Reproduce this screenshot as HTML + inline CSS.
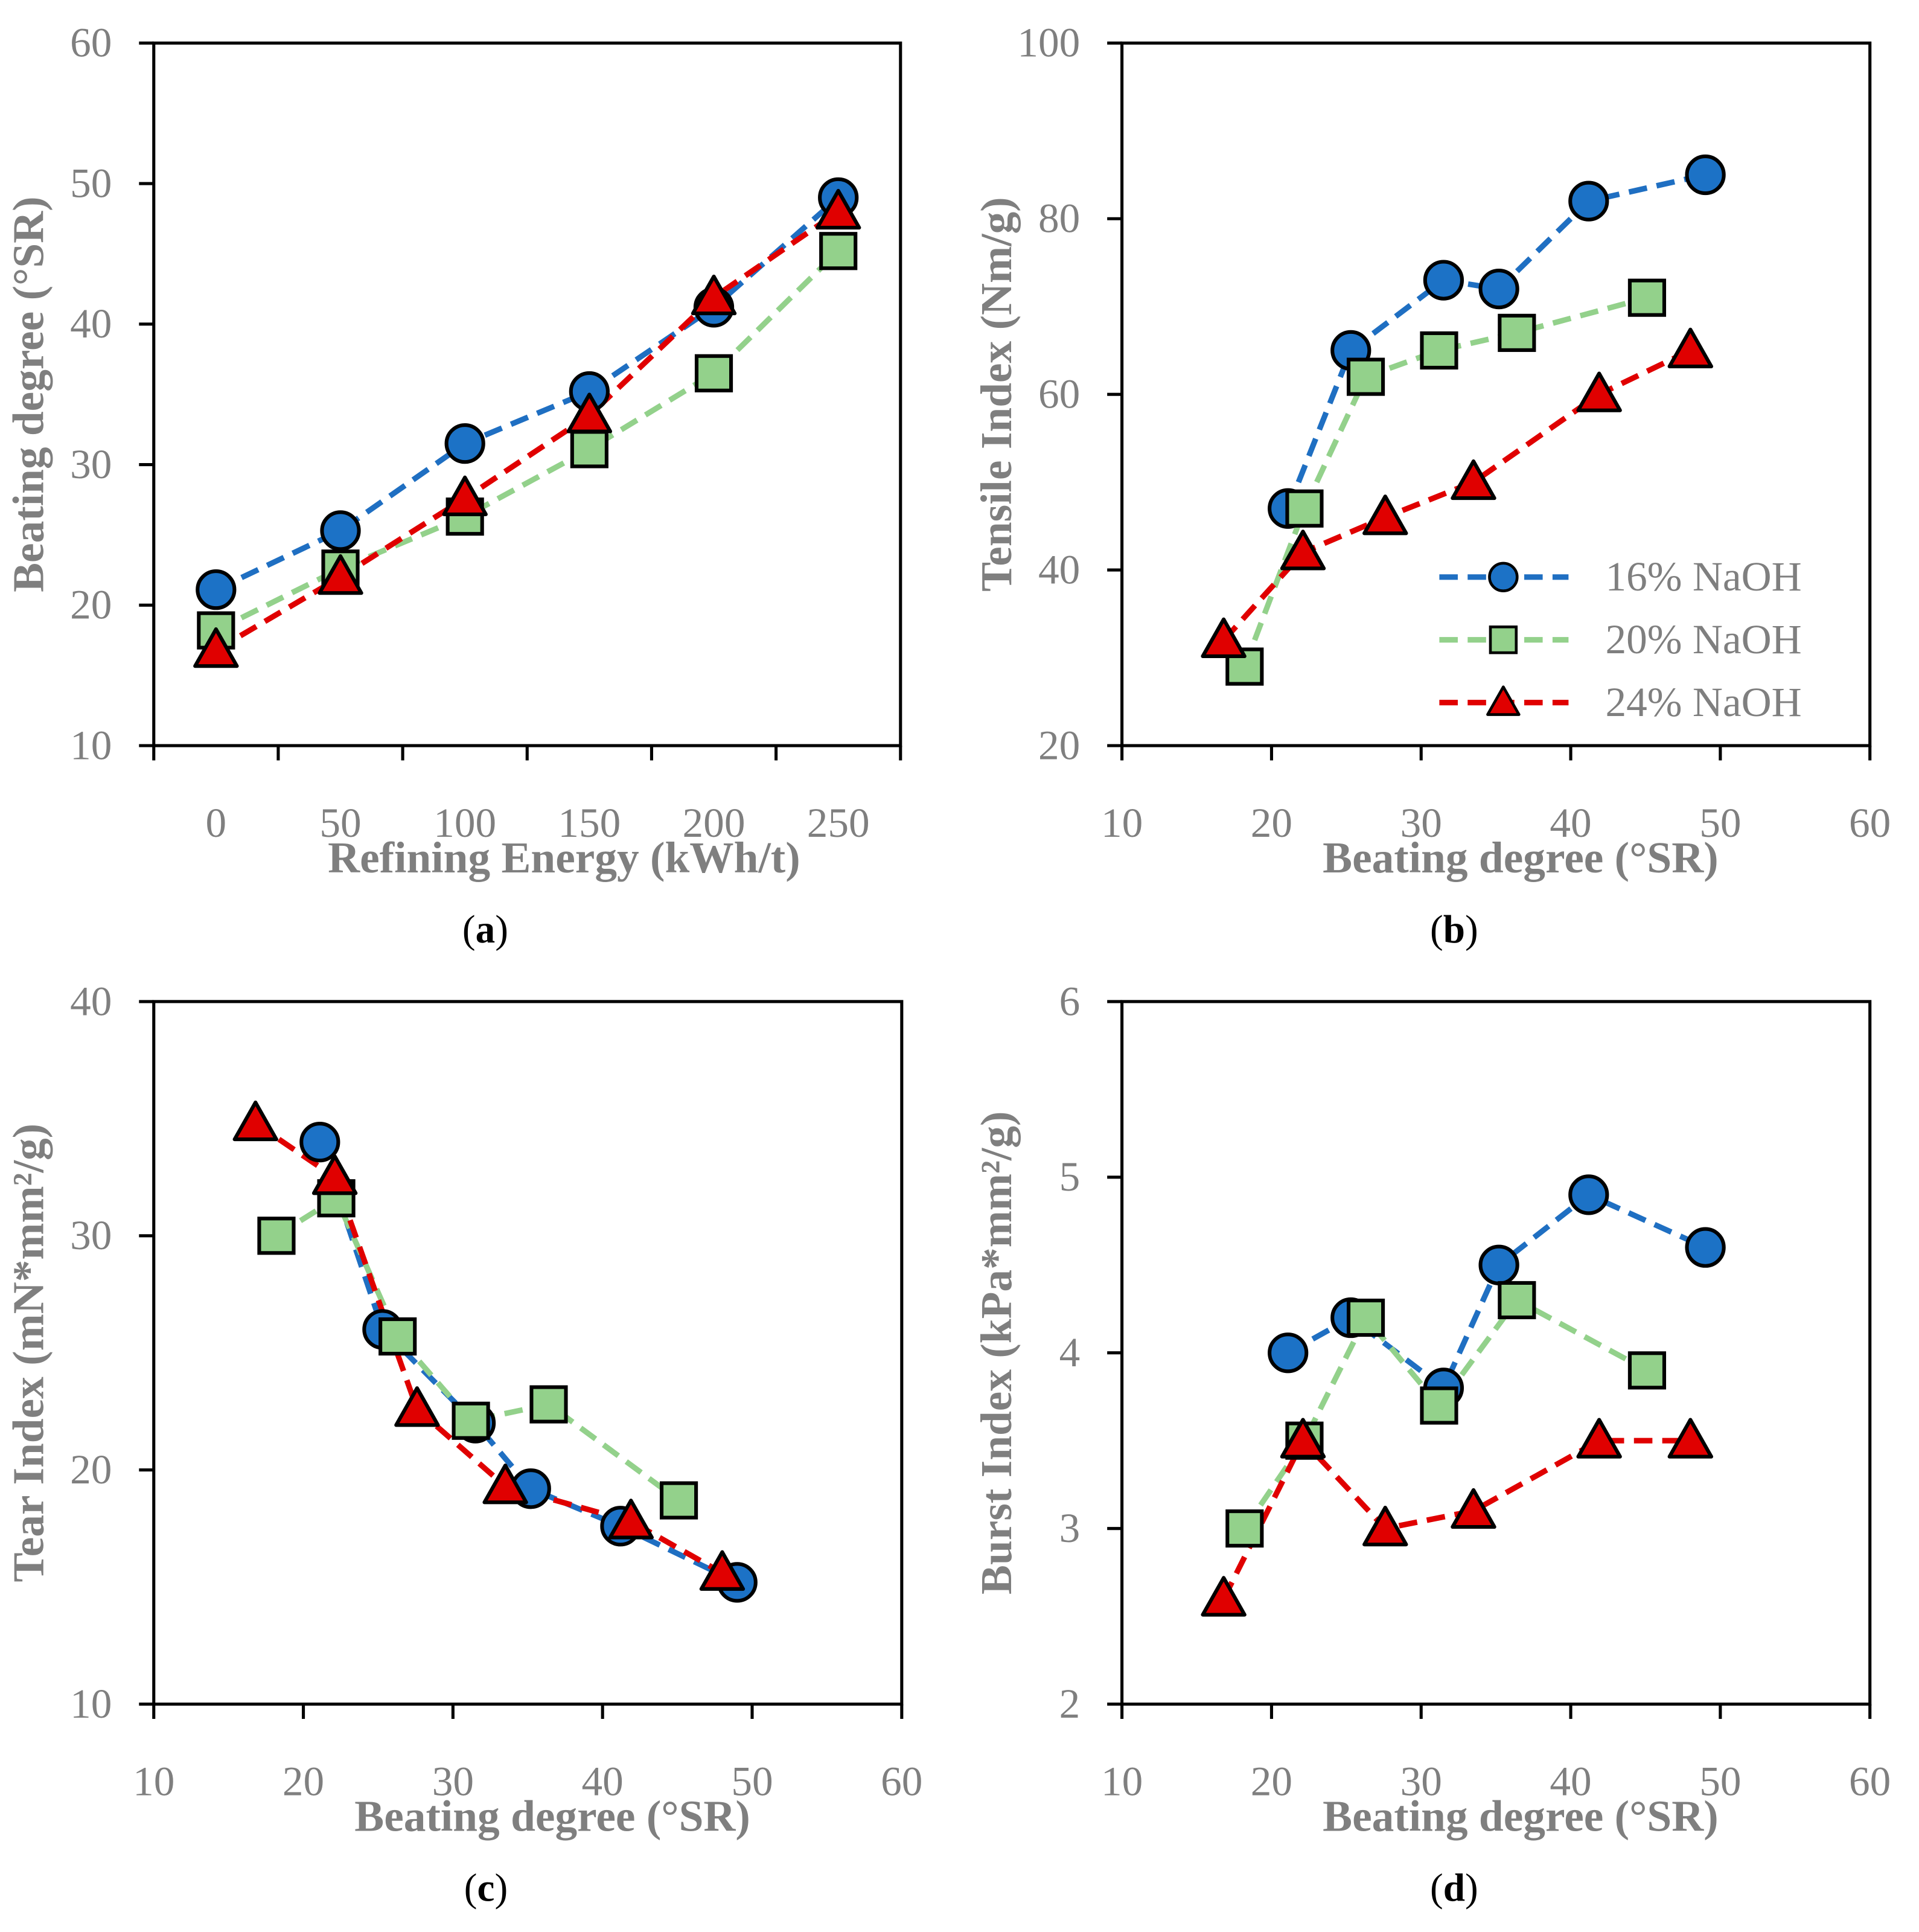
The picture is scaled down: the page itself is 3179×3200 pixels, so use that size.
<!DOCTYPE html>
<html><head><meta charset="utf-8"><style>
html,body{margin:0;padding:0;background:#fff}
svg{display:block}
text{font-family:"Liberation Serif",serif}
</style></head><body>
<svg id="fig" width="3179" height="3200" viewBox="0 0 1559.9 1570.2" preserveAspectRatio="none" xmlns="http://www.w3.org/2000/svg"></svg>
<script>
const energyCats=[0,50,100,150,200,250];
const srA16=[21.1,25.3,31.5,35.2,41.2,49];
const srA20=[18.2,22.6,26.3,31.1,36.5,45.2];
const srA24=[16.8,22.0,27.6,33.5,41.9,48.0];
const x16=[21.1,25.3,31.5,35.2,41.2,49];
const x20=[18.2,22.2,26.3,31.2,36.4,45.1];
const x24=[16.8,22.1,27.6,33.5,41.9,48.0];
const tensile16=[47,65,73,72,82,85];
const tensile20=[29,47,62,65,67,71];
const tensile24=[32,42,46,50,60,65];
const tear16=[34,26,22,19.2,17.6,15.2];
const tear20=[30,31.6,25.7,22.1,22.8,18.7];
const tear24=[34.8,32.5,22.6,19.3,17.8,15.6];
const burst16=[4.0,4.2,3.8,4.5,4.9,4.6];
const burst20=[3.0,3.5,4.2,3.7,4.3,3.9];
const burst24=[2.6,3.5,3.0,3.1,3.5,3.5];
const seriesNames=['16% NaOH','20% NaOH','24% NaOH'];

const svg=document.getElementById('fig');
const NS='http://www.w3.org/2000/svg';
const LC=['#1f6fc2','#93d18b','#e00000'], FC=['#1c72c6','#93d18b','#e00000'];
function mk(tag,at,parent,txt){const e=document.createElementNS(NS,tag);for(const k in at)e.setAttribute(k,at[k]);if(txt!==undefined)e.textContent=txt;(parent||svg).appendChild(e);return e;}
function marker(g,k,cx,cy){
  let m;
  if(k===0)m=mk('circle',{cx:cx,cy:cy,r:15,fill:FC[0],stroke:'#000','stroke-width':3},g);
  else if(k===1)m=mk('rect',{x:cx-14,y:cy-14,width:28,height:28,fill:FC[1],stroke:'#000','stroke-width':3},g);
  else m=mk('polygon',{points:`${cx},${cy-17} ${cx+17},${cy+13} ${cx-17},${cy+13}`,fill:FC[2],stroke:'#000','stroke-width':3,'stroke-linejoin':'round'},g);
  
  
}
function panel(o){
  const g=mk('g',{});
  
  
  const sx=v=>o.L+(v-o.xmin)/(o.xmax-o.xmin)*(o.R-o.L);
  const sy=v=>o.B-(v-o.ymin)/(o.ymax-o.ymin)*(o.B-o.T);
  const box=mk('rect',{x:o.L,y:o.T,width:o.R-o.L,height:o.B-o.T,fill:'none',stroke:'#000','stroke-width':2.5},g);
  
  
  for(let v=o.ymin;v<=o.ymax+1e-9;v+=o.ystep){
    mk('line',{x1:o.L-12,x2:o.L,y1:sy(v),y2:sy(v),stroke:'#000','stroke-width':2.5},g);
    const t=mk('text',{x:o.L-34,y:sy(v)+11,'text-anchor':'end','font-size':34,fill:'#7f7f7f'},g,String(v));
    
    
  }
  for(let v=o.xtick0;v<=o.xmax+1e-9;v+=o.xstep) mk('line',{x1:sx(v),x2:sx(v),y1:o.B,y2:o.B+12,stroke:'#000','stroke-width':2.5},g);
  o.xlabels.forEach(v=>{
    const t=mk('text',{x:sx(v),y:o.B+74,'text-anchor':'middle','font-size':34,fill:'#7f7f7f'},g,String(v));
    
    
  });
  const xt=mk('text',{x:(o.L+o.R)/2+(o.xtoff||0),y:o.B+103,'text-anchor':'middle','font-size':36,'font-weight':'bold',fill:'#7f7f7f'},g,o.xtitle);
  
  
  const cy=(o.T+o.B)/2, yx=o.L-90;
  const yt=mk('text',{x:yx,y:cy,'text-anchor':'middle','font-size':36,'font-weight':'bold',fill:'#7f7f7f',transform:`rotate(-90 ${yx} ${cy})`},g,o.ytitle);
  
  
  const cap=mk('text',{x:(o.L+o.R)/2-34,y:o.B+160,'text-anchor':'middle','font-size':32,fill:'#000'},g);
  
  
  mk('tspan',{},cap,'(');mk('tspan',{'font-weight':'bold'},cap,o.id);mk('tspan',{},cap,')');
  o.series.forEach((s,k)=>{
    const pts=s.x.map((xv,i)=>sx(xv)+','+sy(s.y[i])).join(' ');
    const l=mk('polyline',{points:pts,fill:'none',stroke:LC[k],'stroke-width':4.5,'stroke-dasharray':'15 8'},g);
    
    
  });
  o.series.forEach((s,k)=>s.x.forEach((xv,i)=>marker(g,k,sx(xv),sy(s.y[i]))));
}
panel({id:'a',L:125,R:732,T:35,B:606,xmin:-25,xmax:275,ymin:10,ymax:60,ystep:10,xtick0:-25,xstep:50,xlabels:energyCats,xtoff:30,
 xtitle:'Refining Energy (kWh/t)',ytitle:'Beating degree (°SR)',
 series:[{x:energyCats,y:srA16},{x:energyCats,y:srA20},{x:energyCats,y:srA24}]});
panel({id:'b',L:912,R:1520,T:35,B:606,xmin:10,xmax:60,ymin:20,ymax:100,ystep:20,xtick0:10,xstep:10,xlabels:[10,20,30,40,50,60],xtoff:20,
 xtitle:'Beating degree (°SR)',ytitle:'Tensile Index (Nm/g)',
 series:[{x:x16,y:tensile16},{x:x20,y:tensile20},{x:x24,y:tensile24}]});
panel({id:'c',L:125,R:733,T:814,B:1385,xmin:10,xmax:60,ymin:10,ymax:40,ystep:10,xtick0:10,xstep:10,xlabels:[10,20,30,40,50,60],xtoff:20,
 xtitle:'Beating degree (°SR)',ytitle:'Tear Index (mN*mm²/g)',
 series:[{x:x16,y:tear16},{x:x20,y:tear20},{x:x24,y:tear24}]});
panel({id:'d',L:912,R:1520,T:814,B:1385,xmin:10,xmax:60,ymin:2,ymax:6,ystep:1,xtick0:10,xstep:10,xlabels:[10,20,30,40,50,60],xtoff:20,
 xtitle:'Beating degree (°SR)',ytitle:'Burst Index (kPa*mm²/g)',
 series:[{x:x16,y:burst16},{x:x20,y:burst20},{x:x24,y:burst24}]});
const lg=mk('g',{});


seriesNames.forEach((n,k)=>{
  const y=469+k*51;
  mk('line',{x1:1170,x2:1275,y1:y,y2:y,stroke:LC[k],'stroke-width':4.5,'stroke-dasharray':'15 8'},lg);
  const s=0.75; const g2=mk('g',{transform:`translate(${1222*(1-s)} ${y*(1-s)}) scale(${s})`},lg);
  marker(g2,k,1222,y);
  const t=mk('text',{x:1305,y:y+11,'font-size':34,fill:'#7f7f7f'},lg,n);
  
  
});
</script>
</body></html>
